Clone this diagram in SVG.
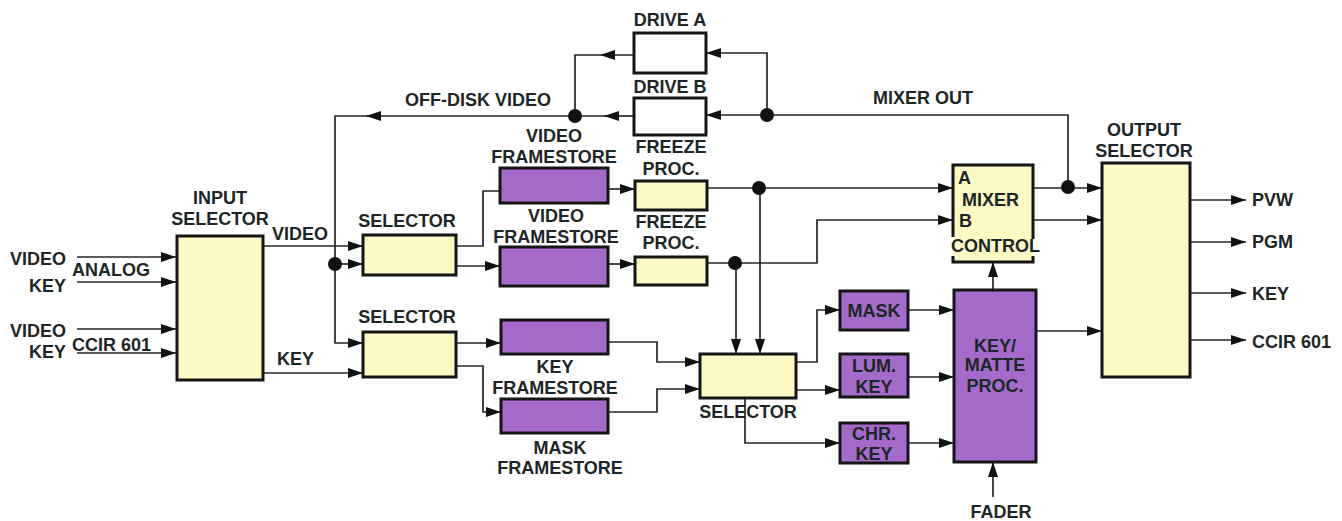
<svg xmlns="http://www.w3.org/2000/svg" width="1342" height="521" viewBox="0 0 1342 521">
<style>
text{font-family:"Liberation Sans",Arial,sans-serif;font-weight:bold;font-size:18px;fill:#1d2626}
.m{text-anchor:middle}
.e{text-anchor:end}
.y{fill:#fdf9c4;stroke:#151515;stroke-width:3}
.p{fill:#a56bcb;stroke:#151515;stroke-width:3}
.w{fill:#ffffff;stroke:#151515;stroke-width:3}
.c{fill:none;stroke:#262626;stroke-width:1.7}
.d{fill:#111}
</style>
<defs>
<marker id="ah" viewBox="0 0 15 10" refX="15" refY="5" markerWidth="15" markerHeight="10" markerUnits="userSpaceOnUse" orient="auto"><path d="M0,0 L15,5 L0,10 z" fill="#111"/></marker>
</defs>
<rect width="1342" height="521" fill="#ffffff"/>

<g id="connectors">
<!-- inputs -->
<path class="c" d="M77,257 H176" marker-end="url(#ah)"/>
<path class="c" d="M77,282 H176" marker-end="url(#ah)"/>
<path class="c" d="M77,329 H176" marker-end="url(#ah)"/>
<path class="c" d="M77,353 H176" marker-end="url(#ah)"/>
<!-- input selector outputs -->
<path class="c" d="M263,246 H363" marker-end="url(#ah)"/>
<path class="c" d="M263,373 H363" marker-end="url(#ah)"/>
<!-- off-disk video -->
<path class="c" d="M634,116 H604" marker-end="url(#ah)"/>
<path class="c" d="M604,116 H370"/>
<path class="c" d="M380,116 H366" marker-end="url(#ah)"/>
<path class="c" d="M366,116 H335 V343 H363" marker-end="url(#ah)"/>
<path class="c" d="M335,264 H363" marker-end="url(#ah)"/>
<path class="c" d="M634,55 H600" marker-end="url(#ah)"/>
<path class="c" d="M600,55 H575 V116"/>
<!-- mixer out -->
<path class="c" d="M1068,188 V115 H706" marker-end="url(#ah)"/>
<path class="c" d="M767,115 V53 H706" marker-end="url(#ah)"/>
<!-- selector 1 -->
<path class="c" d="M456,246 H483 V191 H500"/>
<path class="c" d="M456,266 H500" marker-end="url(#ah)"/>
<!-- selector 2 -->
<path class="c" d="M456,343 H501" marker-end="url(#ah)"/>
<path class="c" d="M456,366 H483 V412 H501" marker-end="url(#ah)"/>
<!-- framestores to freeze -->
<path class="c" d="M608,189 H635" marker-end="url(#ah)"/>
<path class="c" d="M608,264 H635" marker-end="url(#ah)"/>
<!-- freeze outputs -->
<path class="c" d="M707,188 H953" marker-end="url(#ah)"/>
<path class="c" d="M760,188 V354" marker-end="url(#ah)"/>
<path class="c" d="M707,263 H817 V220 H953" marker-end="url(#ah)"/>
<path class="c" d="M736,263 V354" marker-end="url(#ah)"/>
<!-- key/mask framestores to selector -->
<path class="c" d="M608,342 H657 V362 H700" marker-end="url(#ah)"/>
<path class="c" d="M608,412 H657 V389 H700" marker-end="url(#ah)"/>
<!-- selector 3 outputs -->
<path class="c" d="M796,362 H817 V310 H840" marker-end="url(#ah)"/>
<path class="c" d="M796,390 H840" marker-end="url(#ah)"/>
<path class="c" d="M745,398 V443 H840" marker-end="url(#ah)"/>
<!-- keys to key/matte -->
<path class="c" d="M908,310 H954" marker-end="url(#ah)"/>
<path class="c" d="M908,377 H954" marker-end="url(#ah)"/>
<path class="c" d="M908,443 H954" marker-end="url(#ah)"/>
<path class="c" d="M993,290 V262" marker-end="url(#ah)"/>
<path class="c" d="M993,497 V462" marker-end="url(#ah)"/>
<path class="c" d="M1036,331 H1102" marker-end="url(#ah)"/>
<!-- mixer to output -->
<path class="c" d="M1033,188 H1102" marker-end="url(#ah)"/>
<path class="c" d="M1033,220 H1102" marker-end="url(#ah)"/>
<!-- outputs -->
<path class="c" d="M1190,200 H1246" marker-end="url(#ah)"/>
<path class="c" d="M1190,242 H1246" marker-end="url(#ah)"/>
<path class="c" d="M1190,293 H1246" marker-end="url(#ah)"/>
<path class="c" d="M1190,340 H1246" marker-end="url(#ah)"/>
<!-- junction dots -->
<circle class="d" cx="335" cy="264" r="7"/>
<circle class="d" cx="575" cy="116" r="7"/>
<circle class="d" cx="767" cy="115" r="7"/>
<circle class="d" cx="759" cy="188" r="7"/>
<circle class="d" cx="735" cy="263" r="7"/>
<circle class="d" cx="1068" cy="187" r="7"/>
</g>

<g id="input-labels">
<text class="e" x="66" y="265">VIDEO</text>
<text x="72" y="276">ANALOG</text>
<text class="e" x="66" y="292">KEY</text>
<text class="e" x="66" y="337">VIDEO</text>
<text x="72" y="351">CCIR 601</text>
<text class="e" x="66" y="358">KEY</text>
<text x="272" y="240">VIDEO</text>
<text x="277" y="365">KEY</text>
</g>

<g id="input-selector">
<rect class="y" x="177" y="236" width="86" height="144"/>
<text class="m" x="220" y="204">INPUT</text>
<text class="m" x="220" y="225">SELECTOR</text>
</g>

<g id="drive-a">
<rect class="w" x="634" y="33" width="72" height="40"/>
<text class="m" x="670" y="26">DRIVE A</text>
</g>
<g id="drive-b">
<rect class="w" x="634" y="98" width="72" height="37"/>
<text class="m" x="670" y="93">DRIVE B</text>
</g>
<g id="off-disk-label"><text class="m" x="478" y="106">OFF-DISK VIDEO</text></g>
<g id="mixer-out-label"><text class="m" x="923" y="104">MIXER OUT</text></g>

<g id="selector-1">
<rect class="y" x="363" y="235" width="93" height="40"/>
<text class="m" x="407" y="227">SELECTOR</text>
</g>
<g id="selector-2">
<rect class="y" x="363" y="332" width="93" height="45"/>
<text class="m" x="407" y="323">SELECTOR</text>
</g>

<g id="video-framestore-1">
<rect class="p" x="500" y="168" width="108" height="35"/>
<text class="m" x="554" y="142">VIDEO</text>
<text class="m" x="554" y="163">FRAMESTORE</text>
</g>
<g id="video-framestore-2">
<rect class="p" x="500" y="247" width="108" height="39"/>
<text class="m" x="556" y="222">VIDEO</text>
<text class="m" x="556" y="243">FRAMESTORE</text>
</g>
<g id="freeze-proc-1">
<rect class="y" x="635" y="181" width="72" height="29"/>
<text class="m" x="671" y="153">FREEZE</text>
<text class="m" x="671" y="175">PROC.</text>
</g>
<g id="freeze-proc-2">
<rect class="y" x="635" y="257" width="72" height="28"/>
<text class="m" x="671" y="228">FREEZE</text>
<text class="m" x="671" y="249">PROC.</text>
</g>

<g id="key-framestore">
<rect class="p" x="501" y="320" width="107" height="34"/>
<text class="m" x="555" y="373">KEY</text>
<text class="m" x="555" y="394">FRAMESTORE</text>
</g>
<g id="mask-framestore">
<rect class="p" x="501" y="399" width="107" height="34"/>
<text class="m" x="560" y="454">MASK</text>
<text class="m" x="560" y="474">FRAMESTORE</text>
</g>

<g id="selector-3">
<rect class="y" x="700" y="354" width="96" height="44"/>
<text class="m" x="748" y="418">SELECTOR</text>
</g>

<g id="mask">
<rect class="p" x="840" y="291" width="68" height="39"/>
<text class="m" x="874" y="317">MASK</text>
</g>
<g id="lum-key">
<rect class="p" x="840" y="354" width="68" height="43"/>
<text class="m" x="874" y="372">LUM.</text>
<text class="m" x="874" y="393">KEY</text>
</g>
<g id="chr-key">
<rect class="p" x="840" y="423" width="68" height="40"/>
<text class="m" x="874" y="440">CHR.</text>
<text class="m" x="874" y="460">KEY</text>
</g>

<g id="key-matte-proc">
<rect class="p" x="954" y="290" width="82" height="172"/>
<text class="m" x="995" y="352">KEY/</text>
<text class="m" x="995" y="371">MATTE</text>
<text class="m" x="995" y="392">PROC.</text>
<text class="m" x="1001" y="518">FADER</text>
</g>

<g id="mixer-control">
<rect x="953" y="165" width="80" height="97" fill="#fdf9c4"/>
<path d="M953,237 V165 H1033 V239 M953,256 V262 H1033 V256" fill="none" stroke="#151515" stroke-width="3"/>
<text x="958" y="184">A</text>
<text x="962" y="206">MIXER</text>
<text x="959" y="227">B</text>
<text x="951" y="252">CONTROL</text>
</g>

<g id="output-selector">
<rect class="y" x="1102" y="163" width="88" height="214"/>
<text class="m" x="1144" y="136">OUTPUT</text>
<text class="m" x="1144" y="157">SELECTOR</text>
</g>
<g id="output-labels">
<text x="1252" y="206">PVW</text>
<text x="1252" y="248">PGM</text>
<text x="1252" y="300">KEY</text>
<text x="1252" y="348">CCIR 601</text>
</g>
</svg>
